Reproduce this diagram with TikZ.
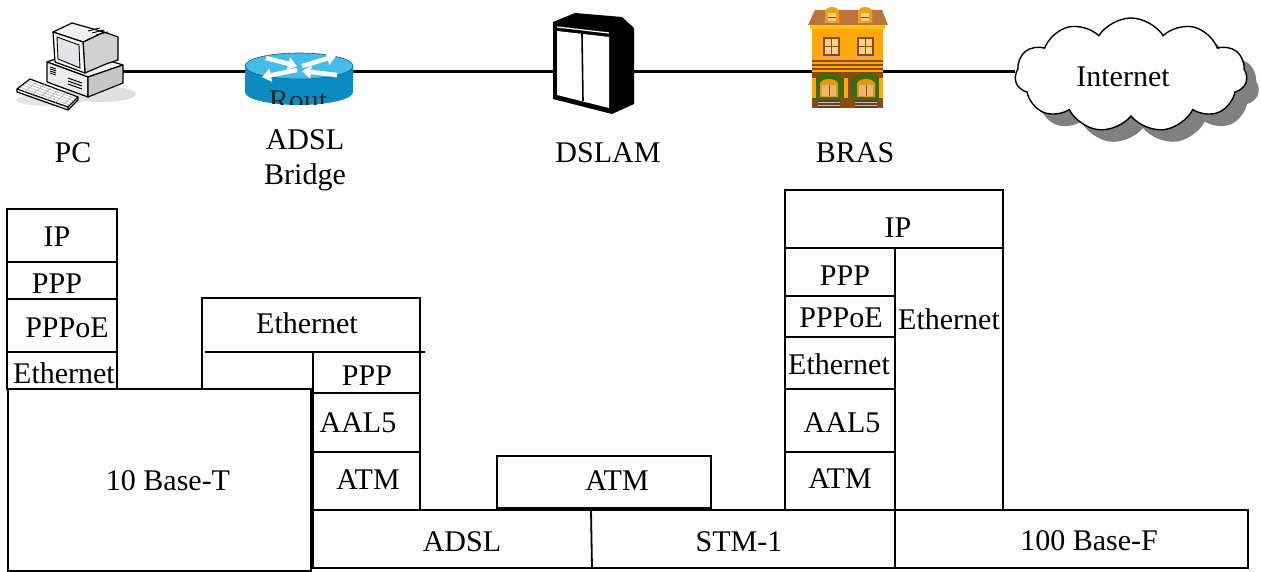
\documentclass[tikz,border=0pt]{standalone}
\usepackage{fontspec}
\setmainfont{Liberation Serif}
\usetikzlibrary{shapes.symbols,shadows,arrows.meta,calc}
\definecolor{rtop}{HTML}{45BDEB}
\definecolor{rside}{HTML}{0B8CC2}
\definecolor{roof}{HTML}{B8743A}
\definecolor{wall}{HTML}{FFA70F}
\definecolor{trim}{HTML}{8A4B12}
\definecolor{pane}{HTML}{FFD28A}
\definecolor{ivy}{HTML}{3E6B12}
\tikzset{
  lbl/.style={font=\fontsize{30}{34}\selectfont, inner sep=0pt, anchor=base},
  layer/.style={line width=1.8pt},
  link/.style={line width=3pt},
  pcline/.style={line width=1.2pt, line join=round},
  wharrow/.style={white, line width=4.5pt, -{Triangle[width=13pt,length=9pt]}}
}
\begin{document}
\begin{tikzpicture}[x=1pt,y=-1pt]
\useasboundingbox (0,0) rectangle (1261,572);
\fill[white] (0,0) rectangle (1261,572);

% ---------- network line ----------
\coordinate (pcport) at (122,72);
\node[cloud, draw, fill=white, cloud puffs=11, cloud puff arc=115, aspect=2.1,
      minimum width=232pt, minimum height=114pt, line width=1.4pt,
      drop shadow={shadow xshift=12pt, shadow yshift=-12pt, fill=black!50, opacity=1}]
      (cloud) at (1131,75) {};
\draw[link] (pcport) -- (pcport -| cloud.west);
\node[lbl] (inet) at (1123,87) {Internet};

% ---------- PC ----------
\fill[black!12] (100,94) ellipse[x radius=36, y radius=8];
\fill[black!10] (50,100) ellipse[x radius=34, y radius=6];
% case
\filldraw[pcline, fill=black!4] (47,62) -- (78,51) -- (123,65) -- (88,77) -- cycle;
\filldraw[pcline, fill=black!8] (47,62) -- (88,77) -- (88,97) -- (47,82) -- cycle;
\filldraw[pcline, fill=black!22] (88,77) -- (123,65) -- (123,83) -- (88,97) -- cycle;
\foreach \i in {0,2,4,6} \draw[line width=0.8pt] (50,67+\i) -- (56,69+\i);
\foreach \i in {0,3,6} \draw[line width=1pt] (68,78+\i) -- (82,83+\i);
% monitor
\filldraw[pcline, fill=black!18] (83,42) -- (104,32) -- (118,37) -- (118,60) -- (106,64) -- (85,73) -- cycle;
\filldraw[pcline, fill=black!6] (53,32) -- (72,23) -- (104,32) -- (83,42) -- cycle;
\foreach \i in {0,2,4} \draw[line width=0.9pt] (88+\i*2,31+\i) -- (100+\i*2,28+\i);
\filldraw[pcline, fill=black!4] (53,32) -- (83,42) -- (85,73) -- (55,62) -- cycle;
\filldraw[line width=0.9pt, fill=blue!8!black!10] (57,37) -- (79,45) -- (80,68) -- (58,59) -- cycle;
% keyboard
\filldraw[pcline, fill=white] (17,89) -- (30,79) -- (78,97) -- (68,107) -- cycle;
\draw[pcline] (17,89) -- (17,92) -- (68,110) -- (68,107);
\draw[pcline] (68,110) -- (78,100) -- (78,97);
\foreach \t in {0.2,0.4,0.6,0.8}
  \draw[black!35, line width=0.5pt] ($(17,89)!\t!(30,79)$) -- ($(68,107)!\t!(78,97)$);
\foreach \t in {0.15,0.3,0.45,0.6,0.75,0.9}
  \draw[black!35, line width=0.5pt] ($(17,89)!\t!(68,107)$) -- ($(30,79)!\t!(78,97)$);

% ---------- router ----------
\fill[rside] (245,66) -- (245,92) arc[start angle=180, end angle=0, x radius=54, y radius=13] -- (353,66) -- cycle;
\begin{scope}
  \clip (245,66) -- (245,92) arc[start angle=180, end angle=0, x radius=54, y radius=13] -- (353,66) -- cycle;
  \node[lbl, text=black!85] (rout) at (298,111) {Rout};
\end{scope}
\fill[rtop] (299,66) ellipse[x radius=54, y radius=13];
\draw[line width=0.6pt, rside!70!black] (299,66) ellipse[x radius=54, y radius=13];
\draw[wharrow] (266,58) -- (297,66);
\draw[wharrow] (302,66) -- (336,56);
\draw[wharrow] (297,70) -- (262,77);
\draw[wharrow] (337,75) -- (302,71);

% ---------- DSLAM ----------
\fill[black] (553,22) -- (575,13) -- (622,17) -- (634,28) -- (634,104) -- (612,114) -- (553,99) -- cycle;
\fill[white] (557,31) -- (609,37) -- (609,108) -- (557,95) -- cycle;
\draw[white, line width=1.2pt] (557,27) -- (609,33);
\draw[line width=1.6pt] (582,34) -- (583,101);

% ---------- BRAS ----------
\fill[roof] (808,25) -- (815,10) -- (882,10) -- (888,25) -- cycle;
\foreach \dx in {825,858} {
  \fill[wall!85!roof] (\dx,23) -- (\dx,12) arc[start angle=180, end angle=360, x radius=7, y radius=5] -- (\dx+14,23) -- cycle;
  \fill[pane] (\dx+3,13) rectangle (\dx+11,21);
  \draw[trim, line width=0.8pt] (\dx+3,17) -- (\dx+11,17);
}
\fill[wall] (812,25) rectangle (883,108);
\fill[wall!70!yellow] (810,25) rectangle (885,29);
\foreach \dx in {823,857} {
  \fill[trim] (\dx,37) rectangle (\dx+17,56);
  \fill[pane] (\dx+2,39) rectangle (\dx+15,54);
  \draw[trim, line width=1.2pt] (\dx+8.5,39) -- (\dx+8.5,54) (\dx+2,46.5) -- (\dx+15,46.5);
  \fill[roof!60!white] (\dx-2,56) rectangle (\dx+19,58);
}
\foreach \yy in {60,64,68} \fill[trim] (812,\yy) rectangle (883,\yy+2);
\fill[trim] (812,72) rectangle (883,108);
\foreach \dx in {814,851} {
  \fill[ivy] (\dx,100) -- (\dx,82) arc[start angle=180, end angle=360, x radius=15, y radius=9] -- (\dx+30,100) -- cycle;
  \fill[wall!80!trim] (\dx+6,97) -- (\dx+6,84) arc[start angle=180, end angle=360, x radius=9, y radius=5] -- (\dx+24,97) -- cycle;
  \fill[pane!70!roof] (\dx+8,96) rectangle (\dx+22,85);
  \draw[trim, line width=0.8pt] (\dx+15,85) -- (\dx+15,96);
  \fill[black!45!roof] (\dx+4,100) rectangle (\dx+26,108);
  \foreach \s in {102,105} \draw[black!25, line width=0.6pt] (\dx+4,\s) -- (\dx+26,\s);
}
\foreach \wx in {812,844,879} \fill[wall] (\wx,78) rectangle (\wx+4,98);

% ---------- device labels ----------
\node[lbl] (pclbl) at (73,163) {PC};
\node[lbl] (brlbl1) at (305,150) {ADSL};
\node[lbl] (brlbl2) at (305,185) {Bridge};
\node[lbl] (dslamlbl) at (608,163) {DSLAM};
\node[lbl] (braslbl) at (855,163) {BRAS};

% ---------- PC protocol stack ----------
\draw[layer] (7,209) rectangle (117,389);
\draw[layer] (7,262) -- (117,262) (7,299) -- (117,299) (7,352) -- (117,352);
\draw[layer] (8,389) rectangle (311,571);
\node[lbl] (pcip) at (57,247) {IP};
\node[lbl] (pcppp) at (57,293) {PPP};
\node[lbl] (pcpppoe) at (67,337) {PPPoE};
\node[lbl] (pceth) at (64,383) {Ethernet};
\node[lbl] (pcphy) at (168,490) {10 Base-T};

% ---------- ADSL bridge stack ----------
\draw[layer] (202,389) -- (202,298) -- (420,298) -- (420,510);
\draw[layer] (205,352) -- (425,352);
\draw[layer] (313,352) -- (313,568);
\draw[layer] (313,393) -- (420,393) (313,452) -- (420,452);
\node[lbl] (breth) at (307,333) {Ethernet};
\node[lbl] (brppp) at (367,385) {PPP};
\node[lbl] (braal) at (358,432) {AAL5};
\node[lbl] (bratm) at (368,489) {ATM};

% ---------- physical links ----------
\draw[layer] (313,510) rectangle (1248,568);
\draw[layer] (591,510) -- (592,568);
\node[lbl] (adsl) at (462,551) {ADSL};
\node[lbl] (stm) at (739,551) {STM-1};
\node[lbl] (fe) at (1089,550) {100 Base-F};

% ---------- DSLAM ATM layer ----------
\draw[layer] (497,456) rectangle (711,508);
\node[lbl] (dslamatm) at (617,490) {ATM};

% ---------- BRAS stack ----------
\draw[layer] (785,190) rectangle (1003,510);
\draw[layer] (785,248) -- (1003,248);
\draw[layer] (895,248) -- (895,568);
\draw[layer] (785,296) -- (895,296) (785,337) -- (895,337) (785,389) -- (895,389) (785,452) -- (895,452);
\node[lbl] (rasip) at (898,237) {IP};
\node[lbl] (rasppp) at (845,285) {PPP};
\node[lbl] (raspppoe) at (841,327) {PPPoE};
\node[lbl] (raseth) at (839,374) {Ethernet};
\node[lbl] (rasaal) at (842,432) {AAL5};
\node[lbl] (rasatm) at (840,488) {ATM};
\node[lbl] (raseth2) at (949,329) {Ethernet};
\end{tikzpicture}
\end{document}
